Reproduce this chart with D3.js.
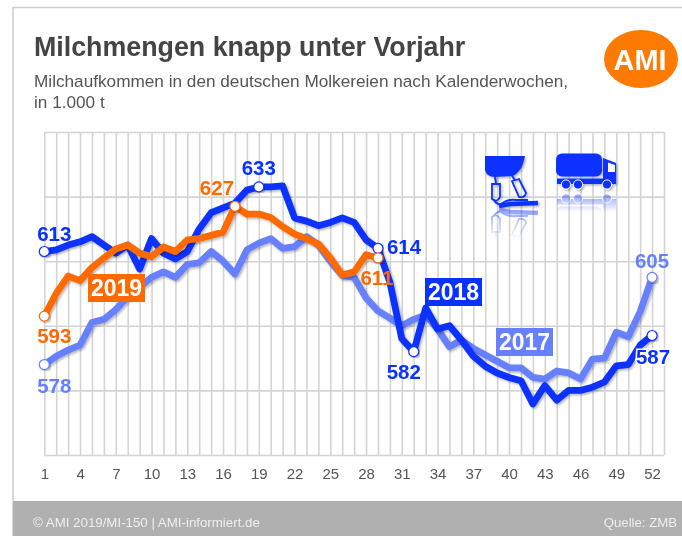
<!DOCTYPE html>
<html>
<head>
<meta charset="utf-8">
<script src="https://cdn.jsdelivr.net/npm/d3@7"></script>
<style>
html, body { margin: 0; padding: 0; background: #fff; overflow: hidden; }
svg { display: block; font-family: "Liberation Sans", Arial, sans-serif; filter: blur(0.35px); }
.grid line { stroke: #d4d4d4; stroke-width: 1.6; }
.grid path { display: none; }
.weeks text { font-size: 15px; fill: #555; }
.weeks line, .weeks path { display: none; }
.val { font-size: 20.5px; font-weight: bold; text-anchor: middle; }
.tag { font-size: 23px; font-weight: bold; fill: #fff; text-anchor: middle; }
</style>
</head>
<body>
<div id="chart"></div>
<script>
"use strict";

// Milchaufkommen, 1.000 t
const weeks = d3.range(1, 53);
const weekTicks = d3.range(1, 53, 3);
const gridWeeks = d3.range(1, 54);
const gridValues = d3.range(550, 651, 20);

const values2017 = [578, 580.6, 582.5, 584, 591, 592, 595, 599, 602, 605, 606.7, 605, 609, 609.5, 613, 610, 606, 613.5, 615.6, 617,
    614, 614.5, 617.6, 615, 610, 605.6, 605, 598.6, 594.6, 592.4, 590, 592, 593.4, 589, 583.5, 585.6, 583, 581, 579, 577,
    577, 574, 573.5, 576, 575.4, 573.5, 579.7, 580, 588, 586.6, 594.4, 605];
const values2018 = [613, 613.5, 615, 616, 617.6, 615, 612.5, 615, 607.6, 617, 612.5, 610.7, 613, 620, 625, 626.5, 628, 632, 633, 633,
    633.3, 623.4, 622.4, 621, 622, 623.4, 622, 616.6, 614, 603.5, 586, 582, 595.5, 589, 590, 585.6, 580.6, 577.5, 575.4, 574,
    573, 565.8, 571.5, 567, 570, 570, 571, 572.6, 577.6, 578, 584, 587];
const values2019 = [593, 600, 605.4, 604, 608, 611, 613.8, 615, 612.5, 611.4, 614.4, 613, 616.6, 617, 618, 619, 627, 624.6, 624.6, 623.5,
    620.7, 618.4, 617, 615.3, 611, 605.7, 606.7, 612, 611];

const COLOR = { y2017: "#6680ff", y2018: "#0a32ff", y2019: "#ff6a00" };

const width = 682, height = 536;
const x = d3.scaleLinear().domain([1, 53]).range([44.3, 664]);
const y = d3.scaleLinear().domain([550, 650]).range([455, 132]);

const svg = d3.select("#chart").append("svg")
    .attr("width", width)
    .attr("height", height);

const defs = svg.append("defs");

const shadow = defs.append("filter").attr("id", "shadow")
    .attr("x", "-10%").attr("y", "-10%").attr("width", "120%").attr("height", "120%");
shadow.append("feDropShadow")
    .attr("dx", 1.5).attr("dy", 1.5).attr("stdDeviation", 1.3)
    .attr("flood-color", "#000").attr("flood-opacity", 0.3);

const fade = defs.append("linearGradient").attr("id", "fade")
    .attr("x1", 0).attr("x2", 0).attr("y1", 0).attr("y2", 1);
fade.append("stop").attr("offset", "0%").attr("stop-color", "#fff").attr("stop-opacity", 0.5);
fade.append("stop").attr("offset", "100%").attr("stop-color", "#fff").attr("stop-opacity", 0);
defs.append("mask").attr("id", "fadeMilker").attr("maskUnits", "userSpaceOnUse")
    .attr("x", 470).attr("y", 208).attr("width", 90).attr("height", 32)
    .append("rect").attr("x", 470).attr("y", 208).attr("width", 90).attr("height", 32).attr("fill", "url(#fade)");
defs.append("mask").attr("id", "fadeTruck").attr("maskUnits", "userSpaceOnUse")
    .attr("x", 550).attr("y", 192).attr("width", 75).attr("height", 20)
    .append("rect").attr("x", 550).attr("y", 192).attr("width", 75).attr("height", 20).attr("fill", "url(#fade)");

// frame and footer
svg.append("rect").attr("x", 13).attr("y", 7.5).attr("width", 680).attr("height", 530)
    .attr("fill", "#fff").attr("stroke", "#cccccc").attr("stroke-width", 1.5);
svg.append("rect").attr("x", 13).attr("y", 501).attr("width", 669).attr("height", 35).attr("fill", "#b0b0b0");
svg.append("text").attr("x", 33).attr("y", 527).attr("font-size", 13.3).attr("fill", "#eeeeee")
    .text("© AMI 2019/MI-150 | AMI-informiert.de");
svg.append("text").attr("x", 677).attr("y", 527).attr("font-size", 13.2).attr("fill", "#eeeeee")
    .attr("text-anchor", "end").text("Quelle: ZMB");

// heading
svg.append("text").attr("x", 34).attr("y", 56).attr("font-size", 26.8).attr("font-weight", "bold")
    .attr("fill", "#444").text("Milchmengen knapp unter Vorjahr");
svg.append("text").attr("x", 34).attr("y", 87).attr("font-size", 17.2).attr("fill", "#555")
    .text("Milchaufkommen in den deutschen Molkereien nach Kalenderwochen,");
svg.append("text").attr("x", 34).attr("y", 108).attr("font-size", 17.2).attr("fill", "#555")
    .text("in 1.000 t");

// logo
svg.append("ellipse").attr("cx", 641).attr("cy", 59).attr("rx", 37).attr("ry", 29).attr("fill", "#ff7a00");
svg.append("text").attr("x", 640).attr("y", 70).attr("font-size", 30).attr("font-weight", "bold")
    .attr("fill", "#fff").attr("text-anchor", "middle")
    .attr("textLength", 53).attr("lengthAdjust", "spacingAndGlyphs").text("AMI");

// grid from the axes
svg.append("g").attr("class", "grid")
    .attr("transform", "translate(0,455)")
    .call(d3.axisBottom(x).tickValues(gridWeeks).tickSize(-323).tickFormat(""));
svg.append("g").attr("class", "grid")
    .attr("transform", "translate(44.3,0)")
    .call(d3.axisLeft(y).tickValues(gridValues).tickSize(-619.7).tickFormat(""));

svg.append("g").attr("class", "weeks")
    .attr("transform", "translate(0,465)")
    .call(d3.axisBottom(x).tickValues(weekTicks).tickSize(0).tickFormat(d3.format("d")));

// icons
function drawMilker(g) {
    g.append("path").attr("fill", COLOR.y2018)
        .attr("d", "M485,156 L525,156 L523,164 Q520,172 513,176 L494,177 Q486,176 485,170 Z");
    g.append("path").attr("fill", "none").attr("stroke", COLOR.y2018).attr("stroke-width", 1.8)
        .attr("d", "M492,184 L500,184 L500,197 Q497,203 492,199 Z M512,181 L519,179 L526,193 Q525,198 519,197 Z");
    g.append("path").attr("fill", "none").attr("stroke", COLOR.y2018).attr("stroke-width", 2)
        .attr("d", "M495,177 L496,183 M512,176 L515,180 M494,200 Q497,205 501,204 Q508,199 516,200 L528,200");
    g.append("path").attr("fill", "none").attr("stroke", COLOR.y2018).attr("stroke-width", 4.5)
        .attr("d", "M499,206 L510,204 L538,203");
}
function drawTruck(g) {
    g.append("rect").attr("x", 556).attr("y", 153.5).attr("width", 46).attr("height", 23).attr("rx", 6).attr("fill", COLOR.y2018);
    g.append("path").attr("fill", COLOR.y2018).attr("d", "M557,178.5 L603,178.5 L603,158 L616,163 L616,184 L557,184 Z");
    g.append("path").attr("fill", "#fff").attr("d", "M608,162.5 L615,165 L615,172 L608,172 Z");
    g.selectAll("circle").data([566, 578, 607]).enter().append("circle")
        .attr("cx", d => d).attr("cy", 184.5).attr("r", 4.6)
        .attr("fill", COLOR.y2018).attr("stroke", "#fff").attr("stroke-width", 1);
}
drawMilker(svg.append("g").attr("filter", "url(#shadow)"));
drawTruck(svg.append("g").attr("filter", "url(#shadow)"));
drawMilker(svg.append("g").attr("mask", "url(#fadeMilker)").append("g")
    .attr("transform", "translate(0,416) scale(1,-1)"));
drawTruck(svg.append("g").attr("mask", "url(#fadeTruck)").append("g")
    .attr("transform", "translate(0,383) scale(1,-1)"));

// lines
const line = d3.line().x(d => x(d.week)).y(d => y(d.value));
function toPoints(values) {
    return values.map((v, i) => ({ week: weeks[i], value: v }));
}
function drawSeries(values, color) {
    svg.append("path")
        .datum(toPoints(values))
        .attr("d", line)
        .attr("fill", "none")
        .attr("stroke", color)
        .attr("stroke-width", 6.8)
        .attr("stroke-linejoin", "round")
        .attr("filter", "url(#shadow)");
}
drawSeries(values2017, COLOR.y2017);
drawSeries(values2018, COLOR.y2018);
drawSeries(values2019, COLOR.y2019);

// year tags
function tag(text, color, left, top) {
    svg.append("rect").attr("x", left).attr("y", top).attr("width", 57).attr("height", 28).attr("fill", color);
    svg.append("text").attr("class", "tag").attr("x", left + 28.5).attr("y", top + 22).text(text);
}
tag("2019", COLOR.y2019, 88, 274);
tag("2018", COLOR.y2018, 425, 278);
tag("2017", COLOR.y2017, 496, 328);

// marked points and their numbers
function mark(values, week, color, dx, dy, halo) {
    const v = values[week - 1];
    svg.append("circle").attr("cx", x(week)).attr("cy", y(v)).attr("r", 5)
        .attr("fill", "#fff").attr("stroke", color).attr("stroke-width", 1.2)
        .attr("filter", "url(#shadow)");
    const t = svg.append("text").attr("class", "val")
        .attr("x", x(week) + dx).attr("y", y(v) + dy)
        .attr("fill", color).text(d3.format("d")(v));
    if (halo) t.attr("stroke", "#fff").attr("stroke-width", 3).attr("paint-order", "stroke");
}
mark(values2017, 1, COLOR.y2017, 10, 28);
mark(values2017, 52, COLOR.y2017, 0, -9);
mark(values2018, 1, COLOR.y2018, 10, -11);
mark(values2018, 19, COLOR.y2018, 0, -12);
mark(values2018, 29, COLOR.y2018, 26, 6);
mark(values2018, 32, COLOR.y2018, -10, 27);
mark(values2018, 52, COLOR.y2018, 1, 29, true);
mark(values2019, 1, COLOR.y2019, 10, 27);
mark(values2019, 17, COLOR.y2019, -18, -11);
mark(values2019, 29, COLOR.y2019, -1, 27);
</script>
</body>
</html>
